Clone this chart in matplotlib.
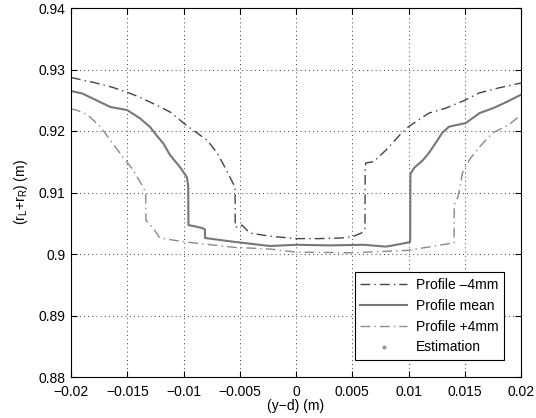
import matplotlib
matplotlib.use("Agg")
import matplotlib.pyplot as plt
from matplotlib.ticker import FixedLocator, FixedFormatter

plt.rcParams['font.family'] = ['Liberation Sans', 'DejaVu Sans']
plt.rcParams['mathtext.fontset'] = 'custom'
plt.rcParams['mathtext.rm'] = 'Liberation Sans'

# Profile -4mm
m4_x = [-0.02, -0.0195, -0.018, -0.0163, -0.015, -0.0139, -0.0124, -0.0112, -0.010, -0.0092,
        -0.0079, -0.0070, -0.0062, -0.0056, -0.00542, -0.00540, -0.0050, -0.0048, -0.0041,
        -0.0023, 0.0, 0.002, 0.004, 0.005, 0.0058, 0.00613, 0.00615, 0.0062, 0.0069, 0.0080,
        0.0092, 0.010, 0.0118, 0.0133, 0.015, 0.0163, 0.018, 0.020]
m4_y = [0.9287, 0.9285, 0.9279, 0.9271, 0.9263, 0.9255, 0.9242, 0.9231, 0.9213, 0.9202,
        0.9185, 0.9164, 0.9137, 0.9115, 0.9110, 0.9044, 0.9044, 0.9047, 0.9034,
        0.9029, 0.9025, 0.9025, 0.9026, 0.9028, 0.9034, 0.9040, 0.9140, 0.9148, 0.9150, 0.9169,
        0.9193, 0.9207, 0.9229, 0.9237, 0.9250, 0.9262, 0.9270, 0.9278]

# Profile mean
mean_x = [-0.02, -0.019, -0.0174, -0.0165, -0.015, -0.0139, -0.013, -0.0124, -0.0118, -0.0112,
          -0.0103, -0.0097, -0.00958, -0.00956, -0.0090, -0.0083, -0.0081, -0.00808, -0.0056,
          -0.0023, 0.0, 0.003, 0.006, 0.008, 0.0098, 0.01015, 0.01017, 0.0105, 0.0113, 0.0118,
          0.0124, 0.013, 0.0136, 0.0151, 0.0163, 0.0175, 0.0187, 0.020]
mean_y = [0.9265, 0.9261, 0.9247, 0.9239, 0.9234, 0.9221, 0.9207, 0.9193, 0.9180, 0.9161,
          0.9141, 0.9125, 0.9110, 0.9047, 0.9045, 0.9042, 0.9040, 0.9026, 0.9020,
          0.9013, 0.9015, 0.9014, 0.9015, 0.9012, 0.9018, 0.9020, 0.9130, 0.9140, 0.9153, 0.9164,
          0.9180, 0.9197, 0.9207, 0.9213, 0.9229, 0.9237, 0.9247, 0.9259]

# Profile +4mm
p4_x = [-0.02, -0.0195, -0.0185, -0.0174, -0.0165, -0.0154, -0.0145, -0.0136, -0.01336,
        -0.01334, -0.0127, -0.0121, -0.010, -0.0056, -0.0023, 0.0, 0.005, 0.010, 0.0133,
        0.01405, 0.01407, 0.0144, 0.0148, 0.0154, 0.0163, 0.0175, 0.0189, 0.020]
p4_y = [0.9236, 0.9234, 0.9226, 0.9207, 0.9185, 0.9158, 0.9137, 0.9109, 0.9100,
        0.9055, 0.9042, 0.9026, 0.9020, 0.9011, 0.9008, 0.9003, 0.9002, 0.9006, 0.9016,
        0.9018, 0.9080, 0.9093, 0.9132, 0.9153, 0.9174, 0.9197, 0.9210, 0.9226]

# Estimation (no points visible in the plot area)
est_x = []
est_y = []

xticks = [-0.02, -0.015, -0.01, -0.005, 0, 0.005, 0.01, 0.015, 0.02]
xticklabels = ['\u22120.02', '\u22120.015', '\u22120.01', '\u22120.005', '0', '0.005', '0.01', '0.015', '0.02']
yticks = [0.88, 0.89, 0.9, 0.91, 0.92, 0.93, 0.94]
yticklabels = ['0.88', '0.89', '0.9', '0.91', '0.92', '0.93', '0.94']

fig = plt.figure(figsize=(5.36, 4.18), dpi=100)
ax = fig.add_axes([71/536, 41/418, 450/536, 369/418])

dashdot = (0, (7, 3, 1, 3))
ax.plot(m4_x, m4_y, color='#454545', lw=1.0, linestyle=dashdot, label='Profile \u20134mm')
ax.plot(mean_x, mean_y, color='#777777', lw=1.5, linestyle='-', label='Profile mean')
ax.plot(p4_x, p4_y, color='#8a8a8a', lw=1.0, linestyle=dashdot, label='Profile +4mm')
ax.plot(est_x, est_y, color='#999999', linestyle='none', marker='.', markersize=4, label='Estimation')

ax.set_xlim(-0.02, 0.02)
ax.set_ylim(0.88, 0.94)
ax.xaxis.set_major_locator(FixedLocator(xticks))
ax.xaxis.set_major_formatter(FixedFormatter(xticklabels))
ax.yaxis.set_major_locator(FixedLocator(yticks))
ax.yaxis.set_major_formatter(FixedFormatter(yticklabels))

ax.grid(True, color='black', linestyle=(0, (1, 4)), linewidth=0.6)
ax.tick_params(direction='in', length=4, width=0.8, top=True, right=True, labelsize=10)
ax.tick_params(axis='x', pad=6)
ax.tick_params(axis='y', pad=4)
for s in ax.spines.values():
    s.set_linewidth(0.8)

ax.set_xlabel('(y\u2212d) (m)', fontsize=10, labelpad=0)
ax.set_ylabel(r'(r$_\mathregular{L}$+r$_\mathregular{R}$) (m)', fontsize=10, labelpad=6)

leg = ax.legend(loc='lower right', bbox_to_anchor=(0.962, 0.046), fontsize=10,
                frameon=True, fancybox=False, edgecolor='black', framealpha=1,
                handlelength=3.4, borderaxespad=0, labelspacing=0.5,
                handletextpad=0.6, borderpad=0.4)
leg.get_frame().set_linewidth(0.8)

fig.savefig('out.png', dpi=100)
